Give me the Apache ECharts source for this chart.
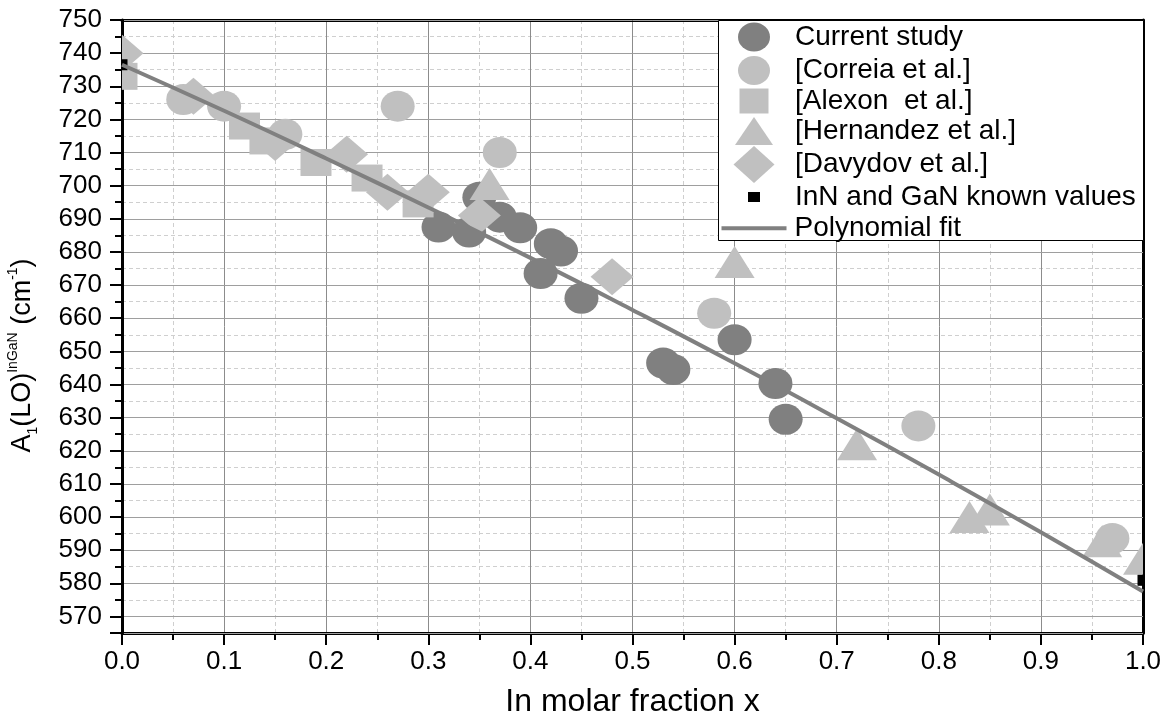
<!DOCTYPE html>
<html>
<head>
<meta charset="utf-8">
<title>A1(LO) InGaN vs In molar fraction</title>
<script src="https://cdn.jsdelivr.net/npm/echarts@6/dist/echarts.min.js"></script>
<style>
  html, body { margin: 0; padding: 0; background: #fff; }
  #chart { width: 1165px; height: 723px; }
</style>
</head>
<body>
<div id="chart"></div>
<script>
// values: [In molar fraction x, A1(LO) in cm-1]
const currentStudy = [
  [0.31, 687.5], [0.34, 686], [0.35, 696.5], [0.37, 690.5], [0.39, 687.3],
  [0.41, 673.5], [0.42, 682.5], [0.43, 680.3], [0.45, 666], [0.53, 646.5],
  [0.54, 644.5], [0.60, 653.5], [0.64, 640.3], [0.65, 629.5]
];
const correia = [
  [0.06, 726], [0.10, 724], [0.16, 715.5], [0.27, 724], [0.37, 710],
  [0.58, 661.5], [0.78, 627.5], [0.97, 593.5]
];
const alexon = [
  [0.0, 733], [0.12, 718], [0.14, 713.5], [0.19, 707], [0.24, 702.3], [0.29, 694.5]
];
const hernandez = [
  [0.36, 700.5], [0.60, 677], [0.72, 622], [0.83, 600], [0.85, 602.3],
  [0.96, 592.7], [1.0, 587.4]
];
const davydov = [
  [0.0, 740], [0.07, 727], [0.15, 713], [0.22, 709.5], [0.26, 698],
  [0.30, 698], [0.35, 691], [0.48, 672.5]
];
const knownValues = [[0.0, 736.5], [1.0, 580.9]];

// polynomial fit
const fitX = [0, 0.1, 0.2, 0.3, 0.4, 0.5, 0.6, 0.7, 0.8, 0.9, 1.0];
const fitY = [736.5, 722.6, 708.2, 693.4, 678.2, 662.5, 646.4, 629.8, 612.8, 595.4, 577.5];

const xTickLabels = ['0.0', '0.1', '0.2', '0.3', '0.4', '0.5', '0.6', '0.7', '0.8', '0.9', '1.0'];
const yMin = 565;
const yMax = 750;

const FONT  = 'Liberation Sans';
const DARK  = '#808080';
const LIGHT = '#c0c0c0';

// unit shapes, scaled to the symbol box
const SHAPES = {
  ellipse:  'M0,1 A1,1 0 1,0 2,1 A1,1 0 1,0 0,1 Z',
  rect:     'M0,0 L1,0 L1,1 L0,1 Z',
  triangle: 'M1,0 L2,2 L0,2 Z',
  diamond:  'M1,0 L2,1 L1,2 L0,1 Z',
};

// custom series so symbols get clipped by the frame like in the original
function markers(name, data, shape, size, color) {
  return {
    name,
    type: 'custom',
    data,
    clip: true,
    encode: { x: 0, y: 1 },
    itemStyle: { color },
    emphasis: { disabled: true },
    renderItem: (params, api) => {
      const p = api.coord([api.value(0), api.value(1)]);
      return {
        type: 'path',
        shape: {
          pathData: SHAPES[shape],
          x: p[0] - size[0] / 2,
          y: p[1] - size[1] / 2,
          width: size[0],
          height: size[1],
          layout: 'cover',
        },
        style: { fill: color },
      };
    },
  };
}

function iconPath(shape, w, h) {
  const s = SHAPES[shape]
    .replace(/([\d.]+),([\d.]+)/g, (m, a, b) => `${a * (shape === 'rect' ? w : w / 2)},${b * (shape === 'rect' ? h : h / 2)}`)
    .replace(/A[\d.]+,[\d.]+/g, `A${w / 2},${h / 2}`);
  return 'path://' + s;
}

function legendFor(name, icon, w, h, cy, textPad) {
  const textH = 28;
  return {
    data: [{ name, icon }],
    orient: 'vertical',
    left: 754 - w / 2,
    top: cy - Math.max(h, textH) / 2,
    padding: 0,
    itemWidth: w,
    itemHeight: h,
    selectedMode: false,
    symbolKeepAspect: false,
    textStyle: { fontFamily: FONT, fontSize: 28, color: '#000', padding: [0, 0, 0, textPad] },
  };
}

const chart = echarts.init(document.getElementById('chart'));

chart.setOption({
  animation: false,
  backgroundColor: '#fff',
  textStyle: { fontFamily: FONT },
  grid: { left: 122, right: 22, top: 20, bottom: 90, outerBoundsMode: 'none' },
  graphic: [{
    type: 'rect',
    z: 3,
    shape: { x: 718.5, y: 20.5, width: 425, height: 220 },
    style: { fill: '#fff', stroke: '#000', lineWidth: 1 },
  }],
  legend: [
    legendFor('Current study', iconPath('ellipse', 32, 29), 32, 29, 37, 20),
    legendFor('[Correia et al.]', iconPath('ellipse', 32, 29), 32, 29, 70.5, 20),
    legendFor('[Alexon  et al.]', iconPath('rect', 29, 25), 29, 25, 101, 21.5),
    legendFor('[Hernandez et al.]', iconPath('triangle', 38, 28), 38, 28, 131, 17),
    legendFor('[Davydov et al.]', iconPath('diamond', 41, 37), 41, 37, 164.5, 15.5),
    legendFor('InN and GaN known values', iconPath('rect', 12, 10), 12, 10, 197, 30),
    legendFor('Polynomial fit', iconPath('rect', 65, 4), 65, 4, 228.3, 3),
  ],
  xAxis: [
    {
      type: 'value',
      min: 0,
      max: 1,
      interval: 0.1,
      position: 'bottom',
      axisLine: { onZero: false, lineStyle: { color: '#000', width: 3 } },
      axisTick: { length: 12, lineStyle: { color: '#000', width: 2 } },
      minorTick: { show: true, splitNumber: 2, length: 7, lineStyle: { color: '#000', width: 2 } },
      splitLine: { show: true, lineStyle: { color: '#8c8c8c', width: 1 } },
      minorSplitLine: { show: true, lineStyle: { color: '#cfcfcf', width: 1, type: [4, 3] } },
      axisLabel: {
        fontFamily: FONT,
        fontSize: 26,
        color: '#000',
        margin: 16,
        formatter: (v) => xTickLabels[Math.round(v * 10)],
      },
      name: 'In molar fraction x',
      nameLocation: 'middle',
      nameGap: 53,
      nameMoveOverlap: false,
      nameTextStyle: { fontFamily: FONT, fontSize: 32, color: '#000' },
    },
    {
      type: 'value',
      min: 0,
      max: 1,
      position: 'top',
      axisLine: { show: true, onZero: false, lineStyle: { color: '#000', width: 3 } },
      axisTick: { show: false },
      axisLabel: { show: false },
      splitLine: { show: false },
    },
  ],
  yAxis: [
    {
      // dashed half-step grid and short ticks
      type: 'value',
      min: yMin,
      max: yMax,
      interval: 5,
      position: 'left',
      axisLine: { show: false },
      axisTick: { length: 7, lineStyle: { color: '#000', width: 2 } },
      axisLabel: { show: false },
      splitLine: { show: true, lineStyle: { color: '#cfcfcf', width: 1, type: [4, 3] } },
    },
    {
      // solid grid every 10, labels
      type: 'value',
      min: yMin,
      max: yMax,
      minInterval: 10,
      maxInterval: 10,
      splitNumber: 18,
      position: 'left',
      z: 1,
      axisLine: { show: true, onZero: false, lineStyle: { color: '#000', width: 3 } },
      axisTick: { length: 12, lineStyle: { color: '#000', width: 2 } },
      splitLine: { show: true, lineStyle: { color: '#9e9e9e', width: 1 } },
      axisLabel: {
        fontFamily: FONT,
        fontSize: 26,
        color: '#000',
        margin: 20,
        formatter: (v) => (v % 10 === 0 ? String(v) : ''),
      },
      name: '{m|A}{sub|1}{m|(LO)}{sup|InGaN}{m| (cm}{sup|-1}{m|)}',
      nameLocation: 'middle',
      nameRotate: 90,
      nameGap: 82,
      nameMoveOverlap: false,
      nameTextStyle: {
        fontFamily: FONT,
        fontSize: 27,
        color: '#000',
        padding: [0, 58, 0, 0],
        rich: {
          m: { fontFamily: FONT, fontSize: 27, lineHeight: 34, color: '#000' },
          sub: { fontFamily: FONT, fontSize: 14, lineHeight: 34, verticalAlign: 'bottom', color: '#000' },
          sup: { fontFamily: FONT, fontSize: 14, lineHeight: 34, verticalAlign: 'top', color: '#000' },
        },
      },
    },
    {
      type: 'value',
      min: yMin,
      max: yMax,
      position: 'right',
      axisLine: { show: true, onZero: false, lineStyle: { color: '#000', width: 3 } },
      axisTick: { show: false },
      axisLabel: { show: false },
      splitLine: { show: false },
    },
  ],
  series: [
    markers('Current study', currentStudy, 'ellipse', [34, 31], DARK),
    markers('[Correia et al.]', correia, 'ellipse', [34, 31], LIGHT),
    markers('[Alexon  et al.]', alexon, 'rect', [31, 27], LIGHT),
    markers('[Hernandez et al.]', hernandez, 'triangle', [40, 32], LIGHT),
    markers('[Davydov et al.]', davydov, 'diamond', [43, 37], LIGHT),
    markers('InN and GaN known values', knownValues, 'rect', [11, 11], '#000'),
    {
      name: 'Polynomial fit',
      type: 'line',
      data: fitX.map((x, i) => [x, fitY[i]]),
      smooth: true,
      symbol: 'none',
      showSymbol: false,
      clip: true,
      lineStyle: { color: DARK, width: 4 },
      itemStyle: { color: DARK },
      emphasis: { disabled: true },
    },
  ],
});

window.addEventListener('resize', () => chart.resize());
</script>
</body>
</html>
